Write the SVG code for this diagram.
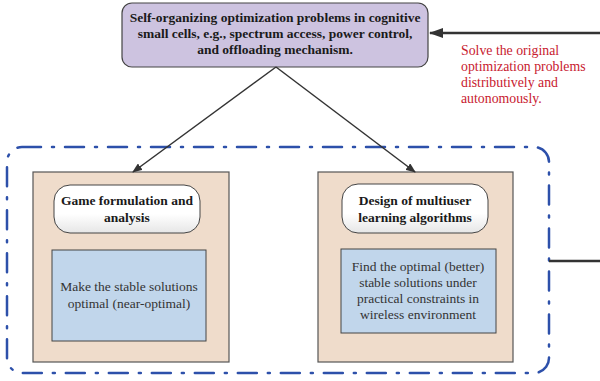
<svg xmlns="http://www.w3.org/2000/svg" width="600" height="381" viewBox="0 0 600 381">
<defs>
<linearGradient id="wg" x1="0" y1="0" x2="0" y2="1">
<stop offset="0" stop-color="#ffffff"/>
<stop offset="0.6" stop-color="#ffffff"/>
<stop offset="1" stop-color="#e6e6e6"/>
</linearGradient>
<marker id="ah" markerWidth="10" markerHeight="8" refX="9" refY="4" orient="auto" markerUnits="userSpaceOnUse">
<path d="M0,0 L10,4 L0,8 Z" fill="#333"/>
</marker>
<marker id="ah2" markerWidth="14" markerHeight="10" refX="13" refY="5" orient="auto" markerUnits="userSpaceOnUse">
<path d="M0,0 L14,5 L0,10 Z" fill="#333"/>
</marker>
</defs>
<style>
text{font-family:'Liberation Serif','Times New Roman','DejaVu Serif',serif;font-size:13.5px}
.b{font-weight:bold;fill:#1a1a1a;text-anchor:middle}
.n{fill:#333;text-anchor:middle}
.r{fill:#c8202f;font-size:13.8px}
.tan{fill:#efdccb;stroke:#555;stroke-width:1.2}
.blu{fill:#c1d6eb;stroke:#444;stroke-width:1}
.wht{fill:url(#wg);stroke:#444;stroke-width:1}
.ln{stroke:#333;stroke-width:1.5;fill:none}
</style>
<g id="group-frame">
<rect x="7" y="147" width="542" height="226" rx="15" ry="15" fill="none" stroke="#2d50aa" stroke-width="2.5" stroke-dasharray="19 11 2 11" stroke-linecap="round"/>
</g>
<g id="node-top">
<rect x="122" y="3" width="306" height="64" rx="10" ry="10" fill="#cdc3e0" stroke="#444" stroke-width="1.2"/>
<text class="b" x="275" y="22">Self-organizing optimization problems in cognitive</text>
<text class="b" x="275" y="38">small cells, e.g., spectrum access, power control,</text>
<text class="b" x="275" y="54">and offloading mechanism.</text>
</g>
<g id="note-red">
<text class="r" x="461" y="55">Solve the original</text>
<text class="r" x="461" y="71">optimization problems</text>
<text class="r" x="461" y="87">distributively and</text>
<text class="r" x="461" y="103">autonomously.</text>
</g>
<g id="node-left">
<rect class="tan" x="33" y="172" width="196" height="190"/>
<rect class="wht" x="54" y="185" width="146" height="48" rx="16" ry="16"/>
<text class="b" x="127" y="205">Game formulation and</text>
<text class="b" x="127" y="222">analysis</text>
<rect class="blu" x="52" y="250" width="154" height="91"/>
<text class="n" x="129" y="291">Make the stable solutions</text>
<text class="n" x="129" y="308">optimal (near-optimal)</text>
</g>
<g id="node-right">
<rect class="tan" x="318" y="172" width="195" height="190"/>
<rect class="wht" x="342" y="184" width="146" height="49" rx="16" ry="16"/>
<text class="b" x="415" y="205">Design of multiuser</text>
<text class="b" x="415" y="222">learning algorithms</text>
<rect class="blu" x="341" y="249" width="155" height="84"/>
<text class="n" x="418" y="271">Find the optimal (better)</text>
<text class="n" x="418" y="287">stable solutions under</text>
<text class="n" x="418" y="303">practical constraints in</text>
<text class="n" x="418" y="319">wireless environment</text>
</g>
<g id="connectors">
<line class="ln" x1="276" y1="67" x2="133" y2="172" marker-end="url(#ah)"/>
<line class="ln" x1="276" y1="67" x2="415" y2="172" marker-end="url(#ah)"/>
<line x1="600" y1="33" x2="430" y2="33" stroke="#333" stroke-width="2.5" marker-end="url(#ah2)"/>
<line x1="549" y1="261" x2="600" y2="261" stroke="#333" stroke-width="2.5"/>
</g>
</svg>
